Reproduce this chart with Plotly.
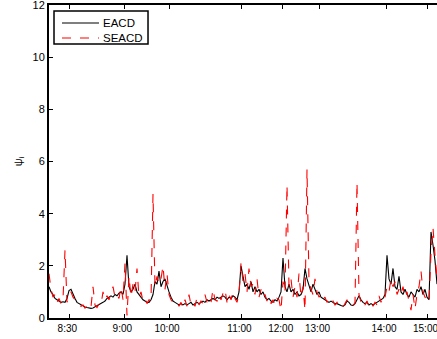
import plotly.graph_objects as go

# sample index (one sample every 2 px of the original axis)
eacd = [1.2, 1.0, 0.9, 0.75, 0.7, 0.65, 0.6, 0.62, 0.6, 0.75,
        1.05, 1.1, 0.9, 0.75, 0.6, 0.55, 0.5, 0.45, 0.42, 0.4,
        0.38, 0.37, 0.38, 0.42, 0.45, 0.5, 0.55, 0.6, 0.65, 0.75,
        0.8, 0.85, 0.8, 0.9, 0.85, 0.95, 1.0, 0.9, 1.3, 2.4,
        1.2, 1.0, 1.1, 1.3, 1.0, 0.9, 0.8, 0.7, 0.65, 0.6,
        0.6, 0.7, 0.9, 1.4, 1.3, 1.8, 1.2, 1.4, 1.5, 1.2,
        1.0, 0.8, 0.65, 0.6, 0.55, 0.5, 0.55, 0.5, 0.55, 0.5,
        0.55, 0.6, 0.5, 0.55, 0.6, 0.55, 0.6, 0.65, 0.6, 0.7,
        0.65, 0.7, 0.75, 0.7, 0.8, 0.75, 0.8, 0.85, 0.8, 0.7,
        0.8, 0.75, 0.85, 0.8, 0.7, 1.0, 2.0, 1.6, 1.2, 1.3,
        1.1, 1.4, 1.0, 1.2, 1.0, 1.1, 0.9, 1.0, 0.8, 0.7,
        0.75, 0.65, 0.6, 0.7, 0.65, 0.8, 1.0, 2.3, 1.2, 1.0,
        1.3, 1.0, 1.1, 0.9, 1.0, 0.85, 0.9, 1.1, 1.9, 1.5,
        1.2, 1.0, 1.3, 1.1, 0.9, 1.0, 0.8, 0.75, 0.7, 0.65,
        0.6, 0.65, 0.6, 0.55, 0.55, 0.5, 0.48, 0.45, 0.5, 0.65,
        0.6, 0.5, 0.48, 0.55, 0.7, 0.85, 0.7, 0.6, 0.55, 0.6,
        0.5, 0.55, 0.5, 0.55, 0.6, 0.65, 0.7, 0.75, 0.9, 2.4,
        1.5, 1.3, 1.9, 1.2, 1.1, 1.6, 1.0, 0.9, 1.1, 0.9,
        0.8, 1.0, 0.9, 0.8, 1.1, 1.0, 1.2, 0.9, 1.1, 0.8,
        0.7, 3.3, 2.8, 2.2, 1.3]

seacd = [1.7, 1.1, 0.8, 0.9, 0.6, 0.75, 0.55, 0.7, 2.6, 0.6,
         0.9, 1.0, 0.8, 0.7, 0.65, 0.5, 0.45, 0.5, 0.38, 0.45,
         0.32, 0.42, 1.2, 0.5, 0.4, 0.55, 0.5, 1.0, 0.7, 0.85,
         0.7, 1.0, 1.2, 0.8, 0.9, 0.75, 1.2, 0.7, 2.1, 0.1,
         1.6, 0.8, 1.3, 1.0, 1.9, 0.8, 1.0, 0.65, 0.75, 0.55,
         0.7, 0.65, 4.75, 1.2, 1.6, 1.3, 1.5, 2.0, 1.1, 1.7,
         0.9, 0.7, 0.6, 0.55, 0.6, 0.45, 0.6, 0.4, 0.7, 0.45,
         0.9, 0.5, 0.6, 0.45, 0.8, 0.5, 0.65, 0.55, 0.9, 0.6,
         0.75, 0.6, 1.1, 0.7, 0.65, 0.9, 0.7, 0.95, 1.1, 0.6,
         0.9, 0.7, 1.0, 0.75, 0.6, 0.9, 2.1, 1.4, 1.7, 1.0,
         1.9, 1.2, 1.3, 0.9, 1.5, 0.8, 1.1, 0.8, 0.9, 0.65,
         0.8, 0.55, 0.7, 0.5, 0.75, 0.7, 0.3, 1.4, 1.0, 5.1,
         1.2, 1.5, 0.8, 1.2, 0.8, 1.7, 0.8, 1.2, 0.3, 5.7,
         1.4, 1.1, 0.9, 1.5, 1.0, 0.8, 0.9, 0.7, 0.8, 0.6,
         0.7, 0.55, 0.65, 0.5, 0.6, 0.45, 0.5, 0.42, 0.55, 0.7,
         0.55, 0.5, 0.45, 0.6, 5.2, 0.9, 0.6, 0.7, 0.5, 0.65,
         0.45, 0.6, 0.45, 0.6, 0.5, 0.85, 0.6, 0.9, 0.8, 1.2,
         1.0, 1.5, 1.2, 1.4, 0.9, 1.1, 0.9, 1.2, 0.8, 1.0,
         0.7, 0.3, 0.9, 0.35, 0.9, 1.2, 1.8, 1.0, 0.8, 0.7,
         0.6, 2.5, 3.45, 2.4, 1.5]

series_names = ["EACD", "SEACD"]
tick_pos = [10.15, 37.65, 60, 96.25, 116.85, 135.25, 168.5, 189.25]
tick_text = ["8:30", "9:00", "10:00", "11:00", "12:00", "13:00", "14:00", "15:00"]
y_ticks = [0, 2, 4, 6, 8, 10, 12]

idx = list(range(len(eacd)))
FONT = "Liberation Sans, Arial, sans-serif"

fig = go.Figure()
fig.add_trace(go.Scatter(x=idx, y=eacd, mode="lines", name=series_names[0],
                         line=dict(color="black", width=1.1), showlegend=False))
fig.add_trace(go.Scatter(x=idx, y=seacd, mode="lines", name=series_names[1],
                         line=dict(color="red", width=1.1, dash="dash"), showlegend=False))

# legend box drawn in paper coordinates (compact, MATLAB-like)
fig.add_shape(type="rect", xref="paper", yref="paper",
              x0=0.0129, x1=0.2552, y0=0.8754, y1=0.9808,
              line=dict(color="black", width=1.5), fillcolor="white", layer="above")
legend_rows = [(0.9425, "black", "solid"), (0.8946, "red", "dash")]
for (yy, col, dsh), name in zip(legend_rows, series_names):
    fig.add_shape(type="line", xref="paper", yref="paper",
                  x0=0.0335, x1=0.1289, y0=yy, y1=yy,
                  line=dict(color=col, width=1.1, dash=dsh), layer="above")
    fig.add_annotation(xref="paper", yref="paper", x=0.134, y=yy, text=name,
                       showarrow=False, xanchor="left", yanchor="middle",
                       font=dict(family=FONT, size=11.5, color="black"))

fig.update_layout(
    width=437, height=339,
    margin=dict(l=49, r=0, t=5, b=21, autoexpand=False),
    paper_bgcolor="white", plot_bgcolor="white",
    font=dict(family=FONT, size=10, color="black"),
    showlegend=False,
    xaxis=dict(range=[0, len(eacd) - 1], tickmode="array", tickvals=tick_pos,
               ticktext=tick_text, ticks="inside", ticklen=4, tickcolor="black",
               showline=True, linecolor="black", linewidth=2, mirror="ticks",
               showgrid=False, zeroline=False, automargin=False,
               ticklabeloverflow="allow", ticklabelshift=-2,
               tickfont=dict(family=FONT, size=10)),
    yaxis=dict(range=[0, 12], tickmode="array", tickvals=y_ticks,
               ticks="inside", ticklen=4, tickcolor="black",
               showline=True, linecolor="black", linewidth=2, mirror=False,
               showgrid=False, zeroline=False, automargin=False,
               ticklabeloverflow="allow",
               tickfont=dict(family=FONT, size=11),
               title=dict(text="ψ<sub>i</sub>", font=dict(family=FONT, size=11), standoff=8)),
)

fig.write_html("out.html", config={"displayModeBar": False},
               post_script="document.body.style.margin='0';document.body.style.padding='0';window.dispatchEvent(new Event('resize'));")
